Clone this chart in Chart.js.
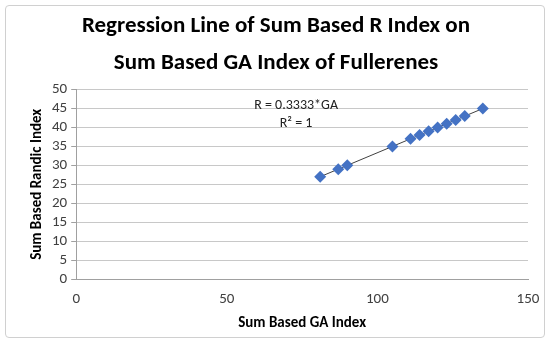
<!DOCTYPE html>
<html>
<head>
<meta charset="utf-8">
<script src="https://cdn.jsdelivr.net/npm/chart.js@4"></script>
<style>
  body { margin: 0; background: #fff; }
  #wrap { position: absolute; left: 5px; top: 5px; width: 538px; height: 331px; border: 1px solid #d0d0d0; border-radius: 4px; }
  #chart { position: absolute; left: 0; top: 0; }
</style>
</head>
<body>
<div id="wrap"></div>
<canvas id="chart" width="550" height="343"></canvas>
<script>
// data
var gaIndex = [81, 87, 90, 105, 111, 114, 117, 120, 123, 126, 129, 135];
var rIndex  = [27, 29, 30, 35, 37, 38, 39, 40, 41, 42, 43, 45];
// regression line R = 0.3333*GA, drawn between the end points
var trendX = [81, 135];
var trendY = [27, 45];
var eqText = ['R = 0.3333*GA', 'R\u00b2 = 1'];
var eqAt = {x: 73, y: [45.8, 41.0]};

var pts = gaIndex.map(function(v, i) { return {x: v, y: rIndex[i]}; });
var line = trendX.map(function(v, i) { return {x: v, y: trendY[i]}; });

var fontName = "Carlito, Lato, 'Open Sans', sans-serif";

// writes the equation text at data coords
var eqPlugin = {
  id: 'eq',
  afterDatasetsDraw: function(chart) {
    var ctx = chart.ctx;
    var xs = chart.scales.x, ys = chart.scales.y;
    ctx.save();
    ctx.font = '14px ' + fontName;
    ctx.fillStyle = '#222';
    ctx.textAlign = 'center';
    ctx.textBaseline = 'middle';
    for (var i = 0; i < eqText.length; i++) {
      ctx.fillText(eqText[i], xs.getPixelForValue(eqAt.x), ys.getPixelForValue(eqAt.y[i]));
    }
    ctx.restore();
  }
};

new Chart(document.getElementById('chart'), {
  type: 'scatter',
  data: {
    datasets: [
      {
        label: 'Sum Based R Index',
        data: pts,
        pointStyle: 'rectRot',
        pointRadius: 6,
        backgroundColor: '#4472c4',
        borderColor: '#4472c4',
        borderWidth: 0,
        order: 1
      },
      {
        label: 'Linear',
        data: line,
        showLine: true,
        pointRadius: 0,
        borderColor: '#404040',
        borderWidth: 1,
        order: 2
      }
    ]
  },
  options: {
    responsive: false,
    animation: false,
    layout: { padding: { left: 24, right: 22, top: 4, bottom: 7 } },
    plugins: {
      legend: { display: false },
      tooltip: { enabled: false },
      title: {
        display: true,
        text: ['Regression Line of Sum Based R Index on', 'Sum Based GA Index of Fullerenes'],
        color: '#000',
        font: { family: fontName, size: 23, weight: 'bold', lineHeight: 1.6 },
        padding: { top: 4, bottom: 8 }
      }
    },
    scales: {
      x: {
        type: 'linear',
        min: 0, max: 150,
        ticks: { stepSize: 50, color: '#404040', font: { family: fontName, size: 15 }, padding: 6 },
        grid: { display: false, drawTicks: true, tickLength: 5, tickColor: '#a0a0a0' },
        border: { display: true, color: '#a0a0a0' },
        title: { display: true, text: 'Sum Based GA Index', color: '#000', font: { family: fontName, size: 15, weight: 'bold' }, padding: { top: 0 } }
      },
      y: {
        min: 0, max: 50,
        ticks: { stepSize: 5, autoSkip: false, color: '#404040', font: { family: fontName, size: 15 }, padding: 4 },
        grid: { color: '#c8c8c8', tickLength: 5, tickColor: '#a0a0a0' },
        border: { display: true, color: '#a0a0a0' },
        title: { display: true, text: 'Sum Based Randic Index', color: '#000', font: { family: fontName, size: 15, weight: 'bold' }, padding: { bottom: 2 } }
      }
    }
  },
  plugins: [eqPlugin]
});
</script>
</body>
</html>
